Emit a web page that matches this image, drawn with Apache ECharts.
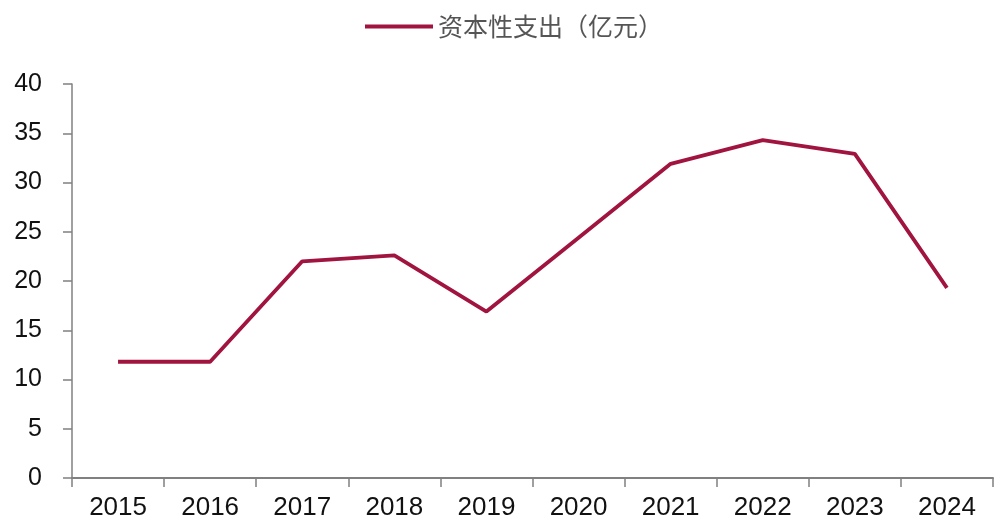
<!DOCTYPE html>
<html>
<head>
<meta charset="utf-8">
<script src="https://cdn.jsdelivr.net/npm/echarts@6/dist/echarts.min.js"></script>
<style>html,body{margin:0;padding:0;background:#fff;}#c{width:1000px;height:527px;}</style>
</head>
<body>
<div id="c"></div>
<script>
const categories = ['2015','2016','2017','2018','2019','2020','2021','2022','2023','2024'];
const capex = [11.8, 11.8, 22.0, 22.6, 16.9, 24.4, 31.9, 34.3, 32.9, 19.3];
const seriesName = '资本性支出（亿元）';
const yTicks = { min: 0, max: 40, interval: 5 };

const chart = echarts.init(document.getElementById('c'));
chart.setOption({
  animation: false,
  backgroundColor: '#fff',
  legend: {
    top: 9,
    left: 360,
    itemWidth: 68,
    itemHeight: 14,
    itemGap: 8,
    textStyle: { fontFamily: 'Noto Sans CJK SC', fontSize: 25, color: '#555' },
    data: [{ name: seriesName, icon: 'path://M0,0 L68,0 L68,4 L0,4 Z' }]
  },
  grid: { left: 72, right: 7, top: 84, bottom: 49 },
  xAxis: {
    type: 'category',
    data: categories,
    boundaryGap: true,
    axisLine: { lineStyle: { color: '#808080', width: 2 } },
    axisTick: { show: true, length: 9, lineStyle: { color: '#808080', width: 1.5 } },
    axisLabel: { fontFamily: 'Liberation Sans', fontSize: 26, color: '#111', margin: 17 },
    splitLine: { show: false }
  },
  yAxis: {
    type: 'value',
    min: yTicks.min, max: yTicks.max, interval: yTicks.interval,
    axisLine: { show: true, lineStyle: { color: '#808080', width: 1.5 } },
    axisTick: { show: true, length: 9, lineStyle: { color: '#808080', width: 1.5 } },
    axisLabel: { fontFamily: 'Liberation Sans', fontSize: 25, color: '#111', margin: 30 },
    splitLine: { show: false }
  },
  series: [{
    name: seriesName,
    type: 'line',
    data: capex,
    symbol: 'none',
    lineStyle: { color: '#A0143F', width: 3.8 },
    itemStyle: { color: '#A0143F' }
  }]
});
</script>
</body>
</html>
